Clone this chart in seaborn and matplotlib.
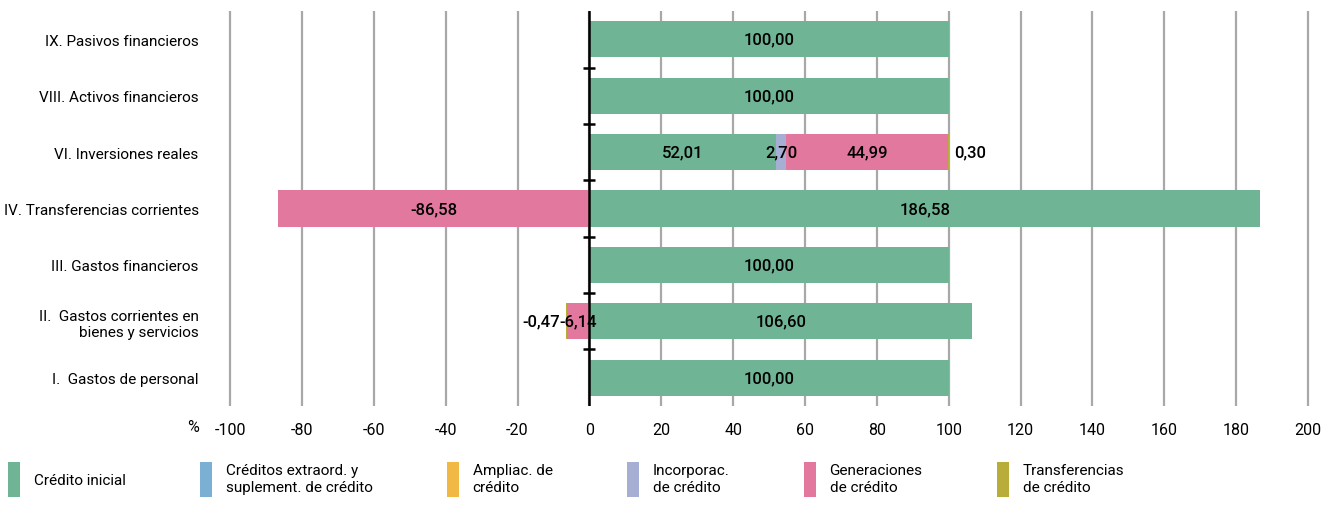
import numpy as np
import seaborn as sns
import matplotlib
matplotlib.use('Agg')
import matplotlib.pyplot as plt
from matplotlib.patches import Patch

categories = ['IX. Pasivos financieros', 'VIII. Activos financieros', 'VI. Inversiones reales',
              'IV. Transferencias corrientes', 'III. Gastos financieros',
              'II.  Gastos corrientes en\nbienes y servicios', 'I.  Gastos de personal']

credito_inicial = [100.00, 100.00, 52.01, 186.58, 100.00, 106.60, 100.00]
extraord = [0, 0, 0, 0, 0, 0, 0]
ampliac = [0, 0, 0, 0, 0, 0, 0]
incorporac = [0, 0, 2.70, 0, 0, 0, 0]
generaciones = [0, 0, 44.99, -86.58, 0, -6.14, 0]
transferencias = [0, 0, 0.30, 0, 0, -0.47, 0]

series_names = ['Crédito inicial', 'Créditos extraord. y\nsuplement. de crédito', 'Ampliac. de\ncrédito',
                'Incorporac.\nde crédito', 'Generaciones\nde crédito', 'Transferencias\nde crédito']
series_vals = [credito_inicial, extraord, ampliac, incorporac, generaciones, transferencias]
colors = ['#6fb495', '#7bafd4', '#f1b944', '#a6aed4', '#e2789e', '#b9ad3a']
xticks = list(range(-100, 201, 20))

sns.set_style('white')
plt.rcParams['font.family'] = ['Roboto', 'DejaVu Sans']
plt.rcParams['text.color'] = 'black'
plt.rcParams['xtick.color'] = 'black'
plt.rcParams['ytick.color'] = 'black'


def fmt(v):
    return f'{v:.2f}'.replace('.', ',')


fig = plt.figure(figsize=(13.36, 5.06), dpi=100)
ax = fig.add_axes([0.1695, 0.196, 0.8123, 0.78])

pos_base = np.zeros(len(categories))
neg_base = np.zeros(len(categories))
for i, (name, vals, col) in enumerate(zip(series_names, series_vals, colors)):
    vals = np.array(vals, dtype=float)
    if not vals.any():
        continue
    left = np.where(vals >= 0, pos_base, neg_base)
    sns.barplot(x=vals, y=categories, orient='y', color=col, saturation=1, left=left,
                width=0.64, errorbar=None, ax=ax, zorder=2, linewidth=0, edgecolor='none')
    cont = ax.containers[-1]
    labels = [fmt(v) if v != 0 else '' for v in vals]
    if i == len(series_names) - 1:
        ax.bar_label(cont, labels=labels, label_type='edge', padding=4,
                     fontsize=12, fontweight='medium')
    else:
        ax.bar_label(cont, labels=labels, label_type='center',
                     fontsize=12, fontweight='medium')
    pos_base += np.clip(vals, 0, None)
    neg_base += np.clip(vals, None, 0)

ax.set_xlim(-101, 201)
ax.set_ylim(len(categories) - 0.5, -0.5)
ax.set_xticks(xticks)
ax.set_xticklabels([str(t) for t in xticks])
ax.set_xlabel('')
ax.set_ylabel('')
for s in ax.spines.values():
    s.set_visible(False)
ax.grid(axis='x', color='#a8a8a8', lw=1.6)
ax.grid(axis='y', visible=False)
ax.set_axisbelow(True)
ax.tick_params(axis='x', length=0, pad=12, labelsize=11.5)
ax.tick_params(axis='y', length=0, pad=20, labelsize=11)

# zero line with small marks between categories
ax.axvline(0, color='black', lw=1.8, zorder=4)
ax.plot(np.zeros(len(categories) - 1), np.arange(len(categories) - 1) + 0.5, ls='none',
        marker='_', ms=9, mew=1.8, color='black', zorder=4, clip_on=False)

fig.text(193 / 1336, 1 - 428 / 506, '%', ha='center', va='center', fontsize=11.5)

handles = [Patch(facecolor=c, edgecolor='none') for c in colors]
fig.legend(handles, series_names, loc='lower left', bbox_to_anchor=(0.0, 0.0), ncol=6,
           frameon=False, fontsize=11, handlelength=0.8, handleheight=3.2,
           handletextpad=0.9, columnspacing=4.85, borderaxespad=0.1,
           labelspacing=0.5)

fig.savefig('out.png', dpi=100)
